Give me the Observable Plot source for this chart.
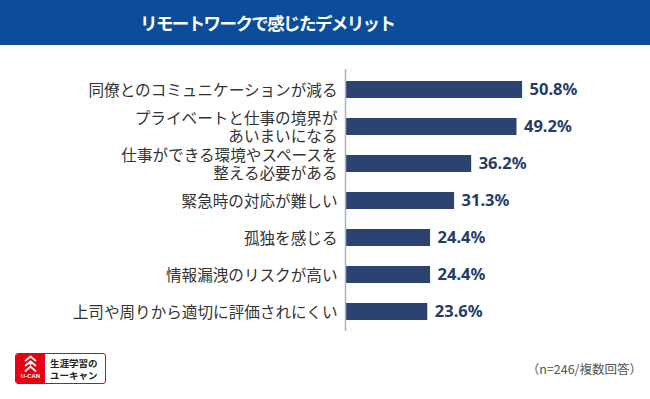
<!DOCTYPE html>
<html><head><meta charset="utf-8">
<script src="https://cdn.jsdelivr.net/npm/d3@7"></script>
<script src="https://cdn.jsdelivr.net/npm/@observablehq/plot@0.6"></script>
<style>
body{margin:0;width:650px;height:399px;background:#fff;position:relative;overflow:hidden;font-family:"Noto Sans CJK JP","Noto Sans",sans-serif;}
#title{height:45px;background:#0b4d9a;color:#fff;font-weight:bold;font-size:17.5px;letter-spacing:-1.6px;line-height:46px;padding-left:140px;box-sizing:border-box;}
#chart{position:absolute;left:0;top:45px;}
#caption{position:absolute;right:8px;top:359px;font-size:12.5px;color:#555;}
#logo{position:absolute;left:15px;top:353px;width:91px;height:31px;border:1.5px solid #e60012;border-radius:3px;box-sizing:border-box;display:flex;overflow:hidden;}
#logo .l{width:29px;background:#e60012;color:#fff;font-size:6px;line-height:7px;font-weight:bold;text-align:center;font-family:"Liberation Sans",sans-serif;}
#logo .r{flex:1;font-size:9.5px;font-weight:bold;color:#222;line-height:12px;padding:3px 0 0 5px;}
</style></head>
<body>
<div id="title">リモートワークで感じたデメリット</div>
<div id="chart"></div>
<div id="logo"><div class="l"><svg width="29" height="19" viewBox="0 0 29 19" style="display:block"><path d="M9 7 L14.5 2.5 L20 7 M9 12 L14.5 7.5 L20 12 M14.5 7.5 L14.5 11 M9 17.5 L14.5 12.5 L20 17.5" stroke="#fff" stroke-width="1.8" fill="none"/></svg><div>U-CAN</div></div><div class="r">生涯学習の<br>ユーキャン</div></div>
<div id="caption">（n=246/複数回答）</div>
<script>
const categories = [
  "同僚とのコミュニケーションが減る",
  "プライベートと仕事の境界が\nあいまいになる",
  "仕事ができる環境やスペースを\n整える必要がある",
  "緊急時の対応が難しい",
  "孤独を感じる",
  "情報漏洩のリスクが高い",
  "上司や周りから適切に評価されにくい"
];
const values = [50.8, 49.2, 36.2, 31.3, 24.4, 24.4, 23.6];
const data = categories.map((c, i) => ({category: c, value: values[i]}));

const chart = Plot.plot({
  width: 650,
  height: 300,
  marginLeft: 345,
  marginRight: 0,
  marginTop: 24,
  marginBottom: 14,
  style: {fontFamily: '"Noto Sans CJK JP","Noto Sans",sans-serif', background: "transparent"},
  x: {domain: [0, 87.5], axis: null},
  y: {domain: categories, axis: null, paddingInner: 0.545, paddingOuter: 0.2725},
  marks: [
    Plot.barX(data, {y: "category", x: "value", fill: "#2b4370"}),
    Plot.ruleX([0], {stroke: "#a7b4c6", strokeWidth: 1.5}),
    Plot.text(data, {y: "category", x: 0, text: "category", textAnchor: "end", dx: -8, fontSize: 15.6, fill: "#333", lineHeight: 1.2}),
    Plot.text(data, {y: "category", x: "value", text: d => d.value.toFixed(1) + "%", textAnchor: "start", dx: 7, fontSize: 16.5, fontWeight: "bold", fill: "#243c6a", fontFamily: '"Noto Sans",sans-serif'})
  ]
});
document.getElementById("chart").appendChild(chart);
</script>
</body></html>
